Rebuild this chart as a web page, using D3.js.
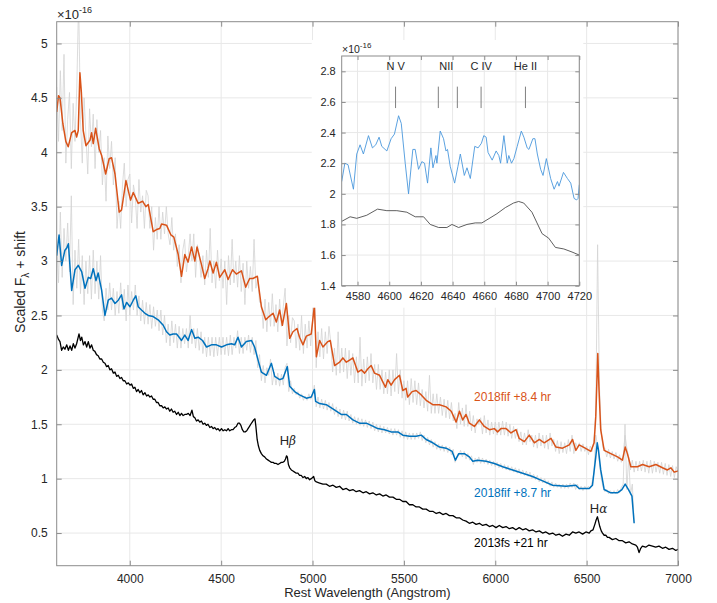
<!DOCTYPE html>
<html><head><meta charset="utf-8">
<script src="https://cdn.jsdelivr.net/npm/d3@7"></script>
<style>
html,body{margin:0;padding:0;background:#fff;}
text{font-family:"Liberation Sans",Arial,Helvetica,sans-serif;fill:#262626;}
</style></head>
<body><svg id="chart" width="717" height="603"></svg>
<script>
// ---------------- DATA ----------------
const xTicks = [4000,4500,5000,5500,6000,6500,7000];
const yTicks = [0.5,1,1.5,2,2.5,3,3.5,4,4.5,5];
const insetXTicks = [4580,4600,4620,4640,4660,4680,4700,4720];
const insetYTicks = [1.4,1.6,1.8,2,2.2,2.4,2.6,2.8];
const seriesLabels = ["2018fif +8.4 hr","2018fif +8.7 hr","2013fs +21 hr"];
const lineIds = [["N V",4604],["NII",4631],["NII",4643],["C IV",4658],["He II",4686]];
const lineLabels = [["N V",4604],["NII",4636],["C IV",4658],["He II",4686]];

// raw (unsmoothed) spectra sampled every 10 Angstrom
const rawGrid1 = d3.range(3600, 7001, 10);
const raw1 = [
4.6,4.1,4.75,4.2,4.9,3.9,4.3,4.55,3.85,4.45,
4.1,4.6,5.4,4.3,3.9,4.5,4.15,3.8,4.4,4.05,
4.35,3.85,4.3,4.0,4.2,3.7,3.95,3.55,4.15,3.85,
4.1,3.7,3.95,3.3,3.55,3.3,3.7,3.9,3.5,3.75,
3.8,3.35,3.7,3.6,3.3,3.75,3.45,3.6,3.3,3.65,
3.6,3.3,3.5,3.1,3.4,3.2,3.5,3.2,3.45,3.25,
3.5,3.25,3.15,3.4,3.1,3.25,2.95,3.15,2.8,3.1,
3.2,2.9,3.05,3.25,3.0,3.25,2.85,3.15,3.05,2.85,
3.05,2.78,3.1,2.85,3.3,2.8,3.0,2.75,3.1,2.82,
3.02,2.75,3.0,2.6,3.05,2.78,3.2,2.8,3.0,2.76,
3.05,2.72,2.98,2.6,3.0,2.75,2.95,2.72,3.2,2.75,
2.85,2.62,2.62,2.38,2.65,2.35,2.62,2.4,2.7,2.4,
2.6,2.35,2.65,2.4,2.58,2.75,2.22,2.5,2.25,2.48,
2.45,2.2,2.42,2.18,2.5,2.15,2.42,2.2,2.45,2.22,
2.45,2.9,2.02,2.35,2.12,2.38,2.1,2.35,2.15,2.4,
2.25,1.98,2.2,1.95,2.35,1.97,2.2,1.98,2.2,1.92,
2.18,1.95,2.15,1.88,2.12,1.88,2.3,1.85,2.1,1.88,
2.12,1.9,2.15,1.88,2.05,1.82,2.05,1.82,2.0,1.78,
1.98,1.78,2.0,1.76,2.0,1.8,2.15,1.78,2.0,1.74,
1.9,1.72,1.9,1.68,1.92,1.7,1.9,1.68,1.88,1.67,
1.82,1.65,1.8,1.62,1.95,1.6,1.78,1.6,1.78,1.6,
1.75,1.58,1.73,1.56,1.72,1.55,1.7,1.53,1.6,1.46,
1.7,1.5,1.65,1.48,1.68,1.48,1.62,1.44,1.58,1.42,
1.55,1.5,1.56,1.41,1.58,1.42,1.54,1.4,1.52,1.41,
1.52,1.4,1.52,1.4,1.53,1.4,1.52,1.39,1.5,1.37,
1.48,1.37,1.46,1.34,1.43,1.31,1.42,1.31,1.45,1.34,
1.4,1.29,1.4,1.28,1.42,1.3,1.4,1.28,1.4,1.27,
1.42,1.3,1.36,1.25,1.35,1.23,1.34,1.24,1.33,1.23,
1.36,1.25,1.4,1.23,1.33,1.28,1.33,1.25,1.32,1.25,
1.3,1.22,1.3,1.25,1.36,1.6,3.15,1.85,1.42,1.28,
1.28,1.2,1.27,1.19,1.25,1.18,1.24,1.16,1.22,1.15,
1.2,1.4,1.28,1.2,1.08,1.17,1.06,1.16,1.07,1.16,
1.07,1.17,1.06,1.16,1.05,1.17,1.05,1.16,1.06,1.15,
1.05,1.15,1.04,1.14,1.03,1.13,1.02,1.12,1.01,1.11,
1.06];
const rawGrid2 = d3.range(3600, 6761, 10);
const raw2 = [
3.2,2.8,3.45,2.85,3.3,3.0,3.35,2.9,3.6,2.6,
3.1,2.75,3.2,2.7,3.05,2.6,3.0,2.7,3.05,2.65,
3.1,2.7,3.0,2.65,3.05,2.55,2.45,2.75,2.55,2.8,
2.55,2.75,2.5,2.72,2.52,2.8,2.55,2.74,2.45,2.78,
2.5,2.72,2.55,2.78,2.5,2.68,2.45,2.64,2.42,2.62,
2.42,2.6,2.38,2.58,2.4,2.55,2.36,2.55,2.32,2.5,
2.25,2.42,2.22,2.45,2.25,2.42,2.2,2.4,2.2,2.38,
2.24,2.38,2.2,2.5,2.24,2.38,2.2,2.38,2.18,2.35,
2.15,2.3,2.12,2.3,2.13,2.3,2.12,2.3,2.13,2.3,
2.14,2.3,2.14,2.3,2.13,2.32,2.14,2.3,2.2,2.36,
2.15,2.3,2.15,2.3,2.18,2.32,2.16,2.3,2.14,2.27,
2.02,2.14,1.9,2.04,1.88,2.02,1.95,2.1,1.86,1.98,
1.86,1.97,1.85,1.96,1.86,2.02,2.06,1.8,1.9,1.78,
1.83,1.77,1.8,1.74,1.78,1.72,1.76,1.72,1.78,1.73,
1.76,1.86,1.66,1.75,1.65,1.73,1.64,1.72,1.63,1.7,
1.62,1.69,1.59,1.66,1.57,1.64,1.55,1.63,1.54,1.62,
1.53,1.59,1.51,1.57,1.5,1.56,1.49,1.55,1.48,1.54,
1.47,1.53,1.46,1.52,1.44,1.5,1.43,1.49,1.42,1.48,
1.42,1.47,1.41,1.46,1.4,1.46,1.4,1.45,1.38,1.44,
1.37,1.43,1.36,1.42,1.36,1.42,1.36,1.42,1.37,1.43,
1.35,1.4,1.33,1.38,1.31,1.36,1.29,1.34,1.27,1.32,
1.26,1.31,1.25,1.3,1.24,1.29,1.22,1.27,1.15,1.2,
1.21,1.26,1.2,1.25,1.18,1.23,1.17,1.21,1.13,1.19,
1.15,1.2,1.14,1.19,1.14,1.18,1.13,1.17,1.12,1.16,
1.11,1.15,1.1,1.14,1.09,1.13,1.08,1.12,1.07,1.11,
1.06,1.1,1.05,1.09,1.04,1.08,1.03,1.07,1.02,1.06,
1.0,1.04,0.99,1.03,0.97,1.01,0.96,1.0,0.95,0.98,
0.93,0.97,0.92,0.96,0.92,0.95,0.91,0.95,0.91,0.95,
0.91,0.96,0.92,0.96,0.9,0.95,0.9,0.93,0.89,0.93,
0.9,0.93,0.91,0.97,1.05,1.4,1.3,1.15,1.0,0.92,
0.88,0.9,0.86,0.89,0.86,0.89,0.86,0.9,0.87,0.92,
0.95,1.5,0.9,1.2,0.85,0.95,0.6];

// smoothed spectra [wavelength, flux]
const orange = [[3600,4.37],[3610,4.52],[3618,4.5],[3634,4.26],[3650,4.1],[3663,4.05],[3682,4.18],[3700,4.2],[3709,4.14],[3718,4.2],[3727,4.73],[3735,4.55],[3745,4.2],[3760,4.06],[3782,4.11],[3791,4.18],[3800,4.08],[3813,4.22],[3833,4.03],[3846,3.97],[3868,3.8],[3887,3.94],[3900,3.95],[3919,3.8],[3942,3.45],[3955,3.47],[3979,3.74],[4004,3.56],[4019,3.63],[4046,3.53],[4070,3.55],[4088,3.5],[4101,3.52],[4128,3.27],[4146,3.29],[4164,3.3],[4174,3.34],[4201,3.33],[4225,3.24],[4241,3.22],[4265,3.06],[4283,2.86],[4301,3.06],[4319,2.99],[4338,3.13],[4356,3.0],[4368,3.13],[4392,2.97],[4410,2.84],[4428,2.93],[4438,3.0],[4456,2.89],[4474,2.99],[4492,2.85],[4520,2.92],[4538,2.83],[4562,2.92],[4583,2.88],[4611,2.91],[4634,2.76],[4656,2.84],[4674,2.84],[4698,2.86],[4720,2.58],[4744,2.46],[4762,2.49],[4784,2.52],[4802,2.44],[4820,2.55],[4835,2.41],[4857,2.61],[4875,2.29],[4893,2.35],[4915,2.38],[4929,2.3],[4948,2.23],[4966,2.31],[4993,2.33],[5010,2.59],[5021,2.12],[5039,2.27],[5057,2.21],[5084,2.26],[5097,2.27],[5121,2.04],[5148,2.07],[5166,2.11],[5185,2.07],[5203,2.09],[5221,2.11],[5248,1.98],[5267,2.0],[5285,1.97],[5303,2.01],[5321,2.04],[5339,1.97],[5367,1.95],[5399,1.84],[5412,1.91],[5430,1.86],[5449,1.91],[5476,1.95],[5494,1.81],[5512,1.83],[5521,1.75],[5545,1.8],[5567,1.81],[5595,1.77],[5622,1.72],[5658,1.68],[5695,1.68],[5731,1.66],[5759,1.62],[5786,1.52],[5804,1.62],[5822,1.54],[5840,1.59],[5858,1.51],[5886,1.48],[5913,1.54],[5940,1.48],[5968,1.45],[5995,1.46],[6013,1.43],[6031,1.46],[6059,1.46],[6086,1.42],[6114,1.45],[6131,1.37],[6159,1.34],[6186,1.4],[6214,1.33],[6241,1.36],[6268,1.33],[6305,1.37],[6332,1.29],[6368,1.28],[6405,1.31],[6423,1.36],[6441,1.26],[6459,1.31],[6492,1.28],[6523,1.25],[6541,1.33],[6550,1.57],[6561,2.15],[6568,1.81],[6577,1.45],[6596,1.26],[6632,1.23],[6669,1.2],[6696,1.17],[6711,1.29],[6723,1.23],[6742,1.11],[6778,1.11],[6806,1.13],[6842,1.11],[6879,1.13],[6915,1.1],[6942,1.08],[6961,1.1],[6979,1.06],[7000,1.07]];

const blue = [[3600,3.05],[3613,3.24],[3627,2.96],[3645,3.1],[3655,3.12],[3664,3.16],[3682,2.73],[3700,2.92],[3718,2.96],[3737,2.9],[3755,2.75],[3773,2.85],[3786,2.84],[3800,2.93],[3815,2.82],[3827,2.89],[3846,2.73],[3864,2.5],[3882,2.64],[3900,2.66],[3919,2.61],[3937,2.64],[3955,2.69],[3968,2.56],[3983,2.62],[4001,2.58],[4019,2.64],[4033,2.68],[4046,2.58],[4064,2.55],[4083,2.52],[4101,2.5],[4128,2.49],[4155,2.46],[4183,2.41],[4201,2.35],[4219,2.32],[4237,2.33],[4256,2.33],[4270,2.3],[4283,2.27],[4301,2.32],[4319,2.27],[4338,2.37],[4356,2.29],[4374,2.3],[4398,2.27],[4420,2.21],[4447,2.23],[4474,2.23],[4502,2.21],[4529,2.23],[4556,2.24],[4574,2.23],[4592,2.3],[4611,2.21],[4638,2.26],[4666,2.27],[4683,2.21],[4702,2.09],[4720,1.98],[4748,1.95],[4775,2.06],[4793,1.94],[4820,1.91],[4838,1.92],[4862,2.03],[4875,1.85],[4902,1.8],[4929,1.77],[4966,1.74],[4993,1.75],[5010,1.82],[5017,1.71],[5039,1.69],[5075,1.68],[5103,1.65],[5130,1.62],[5157,1.59],[5185,1.59],[5221,1.54],[5257,1.51],[5294,1.51],[5321,1.49],[5357,1.46],[5394,1.45],[5430,1.43],[5467,1.43],[5494,1.4],[5531,1.39],[5567,1.39],[5595,1.4],[5622,1.36],[5658,1.33],[5695,1.29],[5731,1.28],[5764,1.25],[5782,1.17],[5800,1.23],[5831,1.23],[5858,1.2],[5877,1.16],[5904,1.17],[5950,1.16],[5995,1.14],[6041,1.11],[6095,1.08],[6150,1.05],[6204,1.02],[6259,0.98],[6314,0.94],[6387,0.93],[6441,0.94],[6459,0.91],[6514,0.91],[6532,0.94],[6550,1.2],[6558,1.33],[6565,1.26],[6577,1.08],[6596,0.9],[6632,0.87],[6669,0.87],[6693,0.9],[6711,0.95],[6729,0.9],[6748,0.84],[6760,0.59]];

const black = [[3600,2.32],[3610,2.28],[3618,2.26],[3627,2.18],[3636,2.21],[3645,2.19],[3655,2.23],[3664,2.18],[3673,2.22],[3682,2.18],[3691,2.24],[3700,2.2],[3709,2.24],[3722,2.33],[3730,2.27],[3737,2.3],[3746,2.23],[3755,2.26],[3764,2.21],[3773,2.26],[3782,2.2],[3791,2.23],[3800,2.18],[3809,2.17],[3818,2.14],[3827,2.13],[3836,2.1],[3846,2.1],[3855,2.07],[3864,2.06],[3873,2.03],[3882,2.04],[3891,2.0],[3900,2.01],[3910,1.97],[3919,1.98],[3928,1.94],[3937,1.95],[3946,1.92],[3955,1.93],[3964,1.9],[3973,1.9],[3983,1.87],[3992,1.88],[4001,1.86],[4010,1.87],[4019,1.83],[4028,1.84],[4037,1.8],[4046,1.82],[4055,1.79],[4064,1.81],[4073,1.77],[4083,1.79],[4092,1.76],[4101,1.77],[4110,1.75],[4119,1.76],[4128,1.73],[4137,1.73],[4146,1.7],[4155,1.7],[4164,1.67],[4174,1.67],[4183,1.65],[4192,1.66],[4201,1.64],[4210,1.65],[4219,1.62],[4228,1.64],[4237,1.61],[4246,1.62],[4256,1.59],[4265,1.61],[4274,1.58],[4283,1.6],[4292,1.58],[4301,1.59],[4310,1.59],[4320,1.6],[4330,1.58],[4340,1.63],[4348,1.57],[4356,1.56],[4365,1.53],[4374,1.54],[4383,1.52],[4392,1.53],[4401,1.5],[4410,1.51],[4419,1.49],[4428,1.5],[4438,1.47],[4447,1.48],[4456,1.46],[4465,1.47],[4474,1.45],[4483,1.46],[4492,1.44],[4502,1.46],[4511,1.44],[4520,1.45],[4529,1.44],[4538,1.46],[4547,1.44],[4556,1.45],[4565,1.45],[4574,1.47],[4583,1.48],[4592,1.51],[4600,1.51],[4608,1.49],[4616,1.45],[4624,1.43],[4632,1.43],[4640,1.44],[4647,1.46],[4655,1.48],[4662,1.5],[4670,1.52],[4678,1.54],[4685,1.55],[4690,1.48],[4697,1.36],[4704,1.3],[4711,1.26],[4720,1.23],[4729,1.21],[4738,1.2],[4748,1.18],[4757,1.17],[4766,1.16],[4775,1.15],[4784,1.15],[4793,1.14],[4802,1.14],[4811,1.13],[4820,1.14],[4829,1.15],[4838,1.15],[4846,1.16],[4852,1.18],[4858,1.21],[4862,1.2],[4868,1.13],[4875,1.1],[4884,1.08],[4893,1.07],[4902,1.06],[4911,1.05],[4920,1.05],[4929,1.03],[4938,1.03],[4948,1.01],[4957,1.02],[4966,1.0],[4975,1.01],[4984,0.99],[4993,1.0],[5006,1.02],[5013,0.98],[5021,0.97],[5039,0.96],[5057,0.95],[5075,0.95],[5093,0.93],[5112,0.94],[5130,0.92],[5148,0.93],[5166,0.9],[5185,0.91],[5203,0.89],[5221,0.9],[5239,0.88],[5257,0.89],[5276,0.87],[5294,0.88],[5312,0.86],[5330,0.87],[5349,0.85],[5367,0.86],[5385,0.84],[5403,0.85],[5421,0.83],[5440,0.83],[5458,0.81],[5476,0.81],[5494,0.79],[5512,0.79],[5530,0.76],[5549,0.76],[5567,0.74],[5585,0.74],[5603,0.72],[5622,0.72],[5640,0.7],[5658,0.7],[5677,0.68],[5695,0.69],[5713,0.67],[5731,0.68],[5749,0.66],[5768,0.66],[5786,0.64],[5804,0.64],[5822,0.62],[5840,0.61],[5858,0.59],[5877,0.6],[5895,0.58],[5913,0.59],[5931,0.57],[5950,0.58],[5968,0.56],[5986,0.57],[6004,0.55],[6022,0.57],[6041,0.55],[6059,0.56],[6077,0.54],[6095,0.55],[6113,0.53],[6131,0.55],[6150,0.53],[6168,0.54],[6186,0.52],[6204,0.53],[6223,0.51],[6241,0.52],[6259,0.5],[6277,0.51],[6296,0.49],[6314,0.5],[6332,0.48],[6350,0.49],[6368,0.47],[6387,0.49],[6405,0.48],[6423,0.51],[6441,0.5],[6459,0.51],[6478,0.49],[6496,0.51],[6514,0.5],[6523,0.52],[6535,0.53],[6545,0.58],[6552,0.62],[6559,0.65],[6565,0.61],[6572,0.56],[6580,0.52],[6587,0.5],[6596,0.48],[6605,0.48],[6614,0.46],[6623,0.46],[6641,0.44],[6660,0.45],[6678,0.43],[6696,0.43],[6714,0.41],[6732,0.42],[6750,0.4],[6769,0.39],[6778,0.37],[6787,0.32],[6796,0.36],[6805,0.38],[6823,0.37],[6841,0.39],[6860,0.38],[6878,0.37],[6896,0.38],[6915,0.36],[6933,0.37],[6951,0.35],[6970,0.36],[6988,0.34],[7000,0.35]];

// inset spectra
const insetBlue = [[4570,2.08],[4572,2.2],[4574,2.19],[4577.4,2.03],[4579.5,2.26],[4581.6,2.32],[4583.7,2.26],[4586.9,2.38],[4589.4,2.3],[4591.5,2.32],[4593.6,2.37],[4595.3,2.31],[4598.5,2.28],[4601.2,2.36],[4603.3,2.39],[4605.9,2.51],[4607.6,2.46],[4610.1,2.2],[4612.2,2.0],[4614.9,2.29],[4616.4,2.29],[4618.5,2.16],[4620.6,2.21],[4622.3,2.2],[4624.2,2.07],[4626.3,2.3],[4627.6,2.17],[4629.5,2.25],[4630.1,2.2],[4632.2,2.41],[4634.3,2.36],[4635.8,2.28],[4636.8,2.29],[4638.5,2.18],[4641.3,2.07],[4643.4,2.18],[4644.9,2.26],[4647.4,2.12],[4649.1,2.17],[4651.2,2.1],[4654,2.31],[4656.1,2.3],[4658.2,2.33],[4659.7,2.38],[4661.2,2.37],[4662.4,2.27],[4665,2.22],[4667.5,2.28],[4669.2,2.25],[4670.3,2.2],[4672.4,2.38],[4674.5,2.2],[4675.5,2.25],[4677.2,2.2],[4678.7,2.23],[4680.8,2.31],[4683.4,2.41],[4685,2.37],[4687.1,2.3],[4688.2,2.29],[4690.7,2.36],[4692,2.36],[4693.5,2.26],[4695.6,2.16],[4697.1,2.12],[4699.2,2.23],[4701.9,2.1],[4704.1,2.03],[4706.2,2.08],[4707.2,2.05],[4710,2.14],[4712.5,2.1],[4714.6,2.07],[4716.7,1.97],[4718.3,1.96],[4719.2,1.97],[4720,2.06]];
const insetBlack = [[4570,1.82],[4575.3,1.85],[4579.5,1.84],[4585.8,1.86],[4592.6,1.9],[4598.5,1.89],[4604.8,1.89],[4611.1,1.88],[4616.4,1.85],[4621.7,1.85],[4625.9,1.8],[4631.2,1.78],[4636.4,1.78],[4639.6,1.8],[4643.8,1.78],[4649.1,1.8],[4654.3,1.81],[4658.5,1.81],[4661.7,1.83],[4668,1.87],[4673.3,1.91],[4678.5,1.94],[4681.7,1.95],[4684.9,1.94],[4690.1,1.88],[4693.3,1.81],[4696.5,1.74],[4700.7,1.71],[4704.9,1.65],[4710.2,1.64],[4715.4,1.62],[4720,1.6]];

// ---------------- DRAW ----------------
const svg = d3.select("#chart");
svg.append("rect").attr("width",717).attr("height",603).attr("fill","#fff");
const COL = {orange:"#D95319", blue:"#0072BD", black:"#000000", raw:"#d3d3d3", grid:"#e8e8e8", axis:"#8c8c8c"};

const x = d3.scaleLinear().domain([3600,7000]).range([56.7,678]);
const y = d3.scaleLinear().domain([0.2,5.2]).range([565.7,21.7]);

svg.append("clipPath").attr("id","mainclip").append("rect")
  .attr("x",x.range()[0]).attr("y",y.range()[1])
  .attr("width",x.range()[1]-x.range()[0]).attr("height",y.range()[0]-y.range()[1]);

// grid
const g = svg.append("g");
g.selectAll(".gx").data(xTicks).join("line")
  .attr("x1",d=>x(d)).attr("x2",d=>x(d)).attr("y1",y.range()[0]).attr("y2",y.range()[1])
  .attr("stroke",COL.grid).attr("stroke-width",1);
g.selectAll(".gy").data(yTicks).join("line")
  .attr("y1",d=>y(d)).attr("y2",d=>y(d)).attr("x1",x.range()[0]).attr("x2",x.range()[1])
  .attr("stroke",COL.grid).attr("stroke-width",1);

const plot = svg.append("g").attr("clip-path","url(#mainclip)");
const line = d3.line().x(d=>x(d[0])).y(d=>y(d[1]));
plot.append("path").datum(rawGrid1.map((w,i)=>[w,raw1[i]])).attr("d",line)
  .attr("fill","none").attr("stroke",COL.raw).attr("stroke-width",0.8);
plot.append("path").datum(rawGrid2.map((w,i)=>[w,raw2[i]])).attr("d",line)
  .attr("fill","none").attr("stroke",COL.raw).attr("stroke-width",0.8);
plot.append("path").datum(orange).attr("d",line).attr("fill","none").attr("stroke",COL.orange).attr("stroke-width",1.5).attr("stroke-linejoin","round");
plot.append("path").datum(blue).attr("d",line).attr("fill","none").attr("stroke",COL.blue).attr("stroke-width",1.5).attr("stroke-linejoin","round");
plot.append("path").datum(black).attr("d",line).attr("fill","none").attr("stroke",COL.black).attr("stroke-width",1.3).attr("stroke-linejoin","round");

// axes (MATLAB-like boxed, inward ticks)
function styleAxis(sel){
  sel.select(".domain").remove();
  sel.selectAll(".tick line").attr("stroke",COL.axis);
  sel.selectAll(".tick text").attr("fill","#262626").style("font-size","12px").style("font-family","Liberation Sans, Arial, sans-serif");
}
svg.append("g").attr("transform",`translate(0,${y.range()[0]})`)
  .call(d3.axisBottom(x).tickValues(xTicks).tickSize(-5).tickPadding(9).tickFormat(d3.format("d")))
  .call(styleAxis);
svg.append("g").attr("transform",`translate(0,${y.range()[1]})`)
  .call(d3.axisTop(x).tickValues(xTicks).tickSize(-5).tickFormat(""))
  .call(styleAxis);
svg.append("g").attr("transform",`translate(${x.range()[0]},0)`)
  .call(d3.axisLeft(y).tickValues(yTicks).tickSize(-5).tickPadding(9).tickFormat(d=>d3.format("")(d)))
  .call(styleAxis);
svg.append("g").attr("transform",`translate(${x.range()[1]},0)`)
  .call(d3.axisRight(y).tickValues(yTicks).tickSize(-5).tickFormat(""))
  .call(styleAxis);
svg.append("rect").attr("x",x.range()[0]).attr("y",y.range()[1])
  .attr("width",x.range()[1]-x.range()[0]).attr("height",y.range()[0]-y.range()[1])
  .attr("fill","none").attr("stroke",COL.axis).attr("stroke-width",1);

// exponent label main
const e1 = svg.append("text").attr("x",57).attr("y",19).style("font-size","13px");
e1.append("tspan").text("\u00d710");
e1.append("tspan").attr("dy",-6).style("font-size","9px").text("-16");

// axis titles
svg.append("text").attr("x",(x.range()[0]+x.range()[1])/2).attr("y",597).attr("text-anchor","middle")
  .style("font-size","13px").text("Rest Wavelength (Angstrom)");
const yl = svg.append("text").attr("transform",`translate(25,282) rotate(-90)`)
  .attr("text-anchor","middle").style("font-size","14px");
yl.append("tspan").text("Scaled F");
yl.append("tspan").attr("dy",4).style("font-size","10px").text("\u03bb");
yl.append("tspan").attr("dy",-4).text(" + shift");

// series labels
const labelPos = [[5884,1.717,COL.orange],[5884,0.834,COL.blue],[5884,0.375,"#000"]];
seriesLabels.forEach((t,i)=>{
  svg.append("text").attr("x",x(labelPos[i][0])).attr("y",y(labelPos[i][1]))
    .style("font-size","12px").style("fill",labelPos[i][2]).text(t);
});
// H beta / H alpha
const hb = svg.append("text").attr("x",x(4865)).attr("y",y(1.31)).attr("text-anchor","middle").style("font-size","13px");
hb.append("tspan").text("H"); hb.append("tspan").style("font-style","italic").style("font-family","DejaVu Serif, serif").style("font-size","12px").text("\u03b2");
const ha = svg.append("text").attr("x",x(6565)).attr("y",y(0.684)).attr("text-anchor","middle").style("font-size","13px");
ha.append("tspan").text("H"); ha.append("tspan").style("font-style","italic").style("font-family","DejaVu Serif, serif").style("font-size","12px").text("\u03b1");

// ---------------- INSET ----------------
const xi = d3.scaleLinear().domain([4570,4720]).range([341.7,579.3]);
const yi = d3.scaleLinear().domain([1.4,2.9]).range([285.7,56]);
svg.append("rect").attr("x",xi.range()[0]-30).attr("y",yi.range()[1]-16)
  .attr("width",xi.range()[1]-xi.range()[0]+34).attr("height",yi.range()[0]-yi.range()[1]+38).attr("fill","#fff");
svg.append("clipPath").attr("id","insclip").append("rect")
  .attr("x",xi.range()[0]).attr("y",yi.range()[1])
  .attr("width",xi.range()[1]-xi.range()[0]).attr("height",yi.range()[0]-yi.range()[1]);
const gi = svg.append("g");
gi.selectAll(".gx").data(insetXTicks).join("line")
  .attr("x1",d=>xi(d)).attr("x2",d=>xi(d)).attr("y1",yi.range()[0]).attr("y2",yi.range()[1])
  .attr("stroke",COL.grid).attr("stroke-width",1);
gi.selectAll(".gy").data(insetYTicks).join("line")
  .attr("y1",d=>yi(d)).attr("y2",d=>yi(d)).attr("x1",xi.range()[0]).attr("x2",xi.range()[1])
  .attr("stroke",COL.grid).attr("stroke-width",1);
const ip = svg.append("g").attr("clip-path","url(#insclip)");
const iline = d3.line().x(d=>xi(d[0])).y(d=>yi(d[1]));
ip.append("path").datum(insetBlue).attr("d",iline).attr("fill","none").attr("stroke","#4a97dd").attr("stroke-width",0.9);
ip.append("path").datum(insetBlack).attr("d",iline).attr("fill","none").attr("stroke","#4d4d4d").attr("stroke-width",0.9);
// line id markers
ip.selectAll(".mk").data(lineIds).join("line")
  .attr("x1",d=>xi(d[1])).attr("x2",d=>xi(d[1])).attr("y1",yi(2.56)).attr("y2",yi(2.7))
  .attr("stroke","#808080").attr("stroke-width",1);
svg.selectAll(".mlab").data(lineLabels).join("text")
  .attr("x",d=>xi(d[1])).attr("y",yi(2.81)).attr("text-anchor","middle")
  .style("font-size","11px").text(d=>d[0]);

svg.append("g").attr("transform",`translate(0,${yi.range()[0]})`)
  .call(d3.axisBottom(xi).tickValues(insetXTicks).tickSize(-4).tickPadding(7).tickFormat(d3.format("d")))
  .call(styleAxis).call(s=>s.selectAll(".tick text").style("font-size","11px"));
svg.append("g").attr("transform",`translate(0,${yi.range()[1]})`)
  .call(d3.axisTop(xi).tickValues(insetXTicks).tickSize(-4).tickFormat(""))
  .call(styleAxis);
svg.append("g").attr("transform",`translate(${xi.range()[0]},0)`)
  .call(d3.axisLeft(yi).tickValues(insetYTicks).tickSize(-4).tickPadding(6).tickFormat(d=>d3.format("")(d)))
  .call(styleAxis).call(s=>s.selectAll(".tick text").style("font-size","11px"));
svg.append("g").attr("transform",`translate(${xi.range()[1]},0)`)
  .call(d3.axisRight(yi).tickValues(insetYTicks).tickSize(-4).tickFormat(""))
  .call(styleAxis);
svg.append("rect").attr("x",xi.range()[0]).attr("y",yi.range()[1])
  .attr("width",xi.range()[1]-xi.range()[0]).attr("height",yi.range()[0]-yi.range()[1])
  .attr("fill","none").attr("stroke",COL.axis).attr("stroke-width",1);
const e2 = svg.append("text").attr("x",342).attr("y",53).style("font-size","10.5px");
e2.append("tspan").text("\u00d710");
e2.append("tspan").attr("dy",-5).style("font-size","8px").text("-16");
</script></body></html>
